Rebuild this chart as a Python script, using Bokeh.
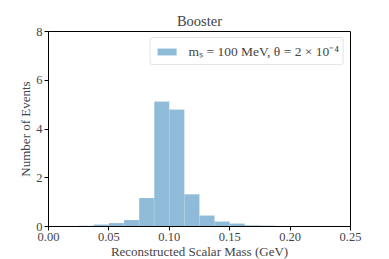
from bokeh.plotting import figure
from bokeh.models import FixedTicker, NumeralTickFormatter, Range1d, Legend, LegendItem, ColumnDataSource
from bokeh.embed import file_html
from bokeh.resources import INLINE

bin_left = [0.025, 0.0375, 0.05, 0.0625, 0.075, 0.0875, 0.1, 0.1125, 0.125, 0.1375, 0.15, 0.1625, 0.175, 0.1875, 0.2]
bin_width = 0.0125
counts = [0.03, 0.08, 0.14, 0.27, 1.17, 5.13, 4.80, 1.32, 0.45, 0.21, 0.12, 0.05, 0.04, 0.02, 0.01]
x_ticks = [0.0, 0.05, 0.10, 0.15, 0.20, 0.25]
y_ticks = [0, 2, 4, 6, 8]
legend_label = "m\u209b = 100 MeV, \u03b8 = 2 \u00d7 10\u207b\u2074"

FONT = "Liberation Serif"

src = ColumnDataSource(dict(
    left=bin_left,
    right=[b + bin_width for b in bin_left],
    top=counts,
    bottom=[0] * len(counts),
))

p = figure(frame_width=302, frame_height=195, output_backend="svg", toolbar_location=None,
           x_range=Range1d(0, 0.25), y_range=Range1d(0, 8),
           min_border_left=48, min_border_right=31, min_border_top=31, min_border_bottom=32)
p.title.text = "Booster"
p.title.align = "center"
p.title.text_font = FONT
p.title.text_font_size = "14.5px"
p.title.text_font_style = "normal"
p.title.standoff = 5

r = p.quad(left="left", right="right", top="top", bottom="bottom", source=src,
           fill_color="#1f77b4", fill_alpha=0.5, line_color="white", line_alpha=0.3, line_width=0.5)

p.xgrid.visible = False
p.ygrid.visible = False
p.outline_line_color = "black"
p.outline_line_width = 1

for ax in (p.xaxis[0], p.yaxis[0]):
    ax.major_label_text_font = FONT
    ax.major_label_text_font_size = "12.5px"
    ax.axis_label_text_font = FONT
    ax.axis_label_text_font_size = "13px"
    ax.axis_label_text_font_style = "normal"
    ax.minor_tick_line_color = None
    ax.major_tick_out = 4
    ax.major_tick_in = 0
    ax.axis_line_color = "black"
    ax.major_tick_line_color = "black"
    ax.major_label_standoff = 2

p.xaxis.ticker = FixedTicker(ticks=x_ticks)
p.xaxis.formatter = NumeralTickFormatter(format="0.00")
p.yaxis.ticker = FixedTicker(ticks=y_ticks)
p.xaxis.axis_label = "Reconstructed Scalar Mass (GeV)"
p.yaxis.axis_label = "Number of Events"
p.xaxis.axis_label_standoff = 0
p.yaxis.axis_label_standoff = 0

legend = Legend(items=[LegendItem(label=legend_label, renderers=[r])], location="top_right")
legend.margin = 6
legend.padding = 4
legend.glyph_width = 24
legend.glyph_height = 9
legend.label_standoff = 10
legend.label_text_font = FONT
legend.label_text_font_size = "13.5px"
legend.label_height = 13
legend.border_line_color = "#cccccc"
legend.border_radius = 3
legend.background_fill_alpha = 0.8
p.add_layout(legend)

open("out.html", "w").write(file_html(p, INLINE))
